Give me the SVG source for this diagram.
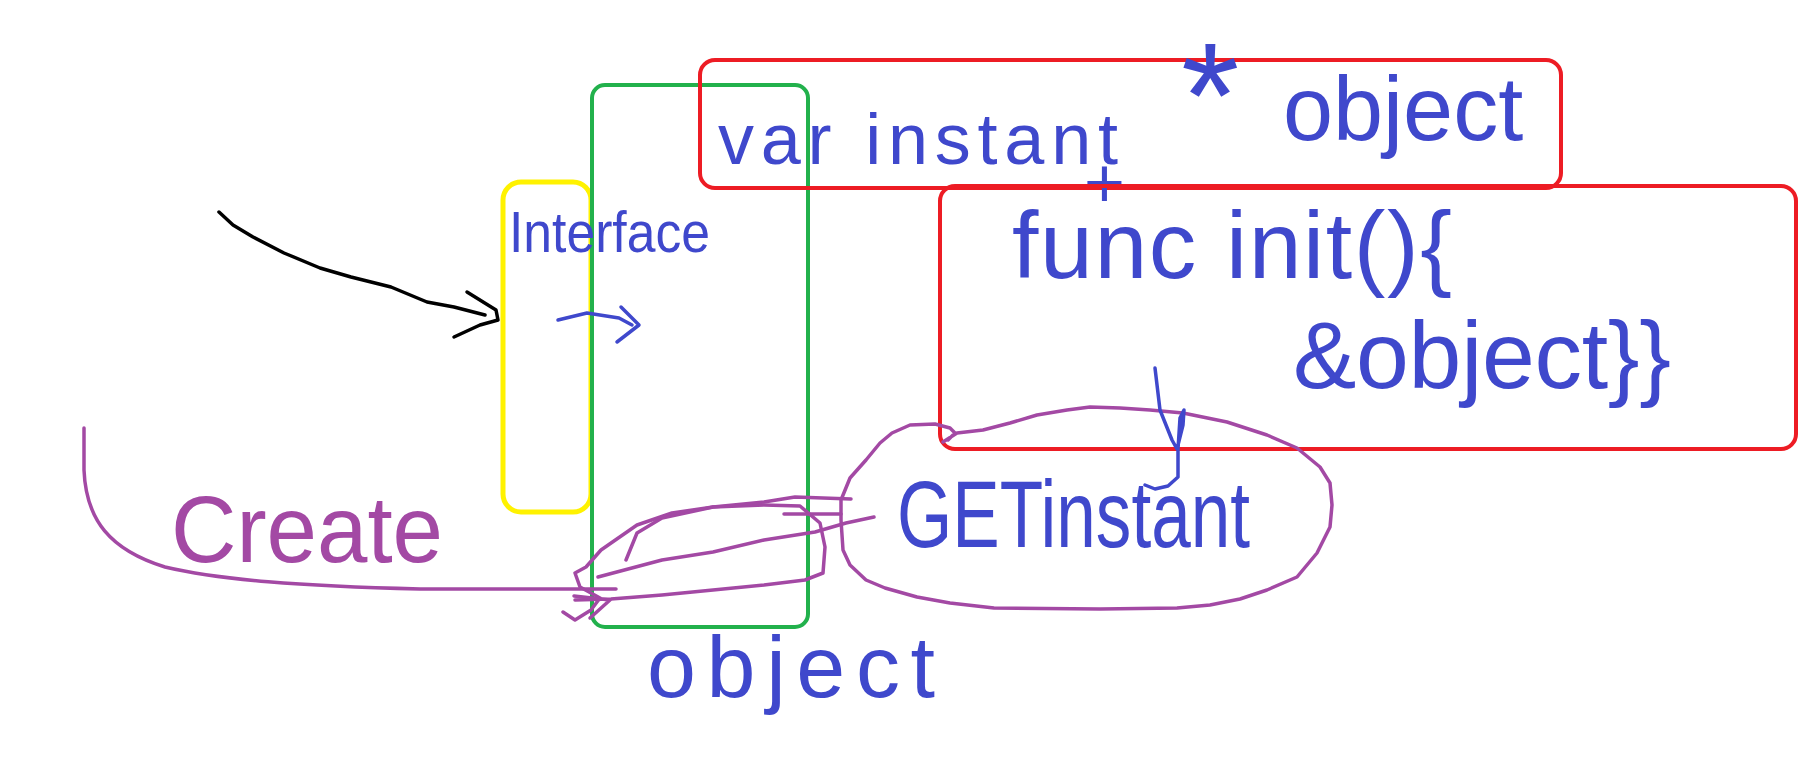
<svg xmlns="http://www.w3.org/2000/svg" width="1802" height="758" viewBox="0 0 1802 758">
<style>
.box{fill:none;stroke-width:4}
.red{stroke:#ed1c24}
.grn{stroke:#22b14c}
.yel{stroke:#fff200;stroke-width:5}
.ink{fill:none;stroke-width:3.5;stroke-linecap:round;stroke-linejoin:round}
.blue{stroke:#3f48cc}
.pur{stroke:#a349a4}
.blk{stroke:#000}
.t{font-family:"Liberation Sans",Arial,sans-serif;fill:#3f48cc}
.tp{font-family:"Liberation Sans",Arial,sans-serif;fill:#a349a4}
</style>
<rect width="1802" height="758" fill="#fff"/>
<g id="node-yellow"><rect class="box yel" x="503" y="182" width="88" height="330" rx="18"/></g>
<g id="node-green"><rect class="box grn" x="592" y="85" width="216" height="542" rx="13"/></g>
<g id="node-var-instant">
<rect class="box red" x="700" y="60" width="861" height="128" rx="15"/>
<text class="t" x="718" y="164" font-size="72" textLength="400">var instant</text>
<text class="t" x="1084" y="207" font-size="70">+</text>
<text class="t" x="1181" y="148" font-size="150">*</text>
<text class="t" x="1283" y="140" font-size="90">object</text>
</g>
<g id="node-init">
<rect class="box red" x="940" y="186" width="856" height="263" rx="15"/>
<text class="t" x="1012" y="278" font-size="95" textLength="440">func init(){</text>
<text class="t" x="1293" y="388" font-size="95" textLength="378">&amp;object}}</text>
</g>
<g id="node-getinstant">
<path class="ink pur" d="M943,442 L957,433 L983,430 L1010,423 L1037,415 L1067,410 L1090,407 L1120,408 L1150,410 L1183,413 L1227,422 L1267,435 L1297,448 L1320,467 L1330,483 L1332,505 L1330,527 L1317,553 L1297,577 L1267,590 L1240,599 L1210,605 L1177,608 L1100,609 L994,608 L950,603 L917,597 L885,588 L866,580 L850,565 L843,550 L841,520 L841,500 L850,478 L866,460 L880,443 L892,433 L910,425 L935,424 L950,428 L955,433 L948,440"/>
<text class="t" x="897" y="547" font-size="95" textLength="353" lengthAdjust="spacingAndGlyphs">GETinstant</text>
</g>
<g id="node-object-scribble">
<path class="ink pur" d="M626,560 L637,533 L662,518 L713,507 L764,505 L800,506 L820,523 L825,547 L823,573 L805,580 L764,585 L713,590 L662,595 L611,599 L575,600"/>
<path class="ink pur" d="M563,612 L575,620 L591,610 L600,598 L580,587 L575,573 L586,567 L601,550 L637,525 L672,513 L713,507 L764,502 L795,497 L851,499"/>
<path class="ink pur" d="M784,514 L841,514"/>
</g>
<g id="labels">
<text class="t" x="509" y="252" font-size="58" textLength="201" lengthAdjust="spacingAndGlyphs">Interface</text>
<text class="tp" x="171" y="562" font-size="95" textLength="272" lengthAdjust="spacingAndGlyphs">Create</text>
<text class="t" x="647" y="697" font-size="88" textLength="288">object</text>
</g>
<g id="connectors">
<path class="ink blk" d="M219,212 L233,225 L253,237 L284,253 L320,268 L351,277 L391,287 L427,302 L454,307 L485,315"/>
<path class="ink blk" d="M467,292 L496,310 L498,320 L480,325 L454,337"/>
<path class="ink blue" d="M558,320 L587,313 L619,318 L632,325"/>
<path class="ink blue" d="M621,307 L639,325 L617,342"/>
<path class="ink pur" d="M84,428 L84,470 C86,520 110,550 165,567 C220,580 300,586 420,589 L616,589"/>
<path class="ink pur" d="M574,596 L610,600 L590,618"/>
<path class="ink pur" d="M598,577 L662,560 L713,552 L764,540 L815,532 L846,523 L874,517"/>
<path class="ink blue" d="M1155,368 L1160,410 L1172,440 L1177,449 L1183,425 L1184,410 L1180,418 L1178,449 L1178,477 L1168,486 L1155,489 L1145,485"/>
</g>
</svg>
